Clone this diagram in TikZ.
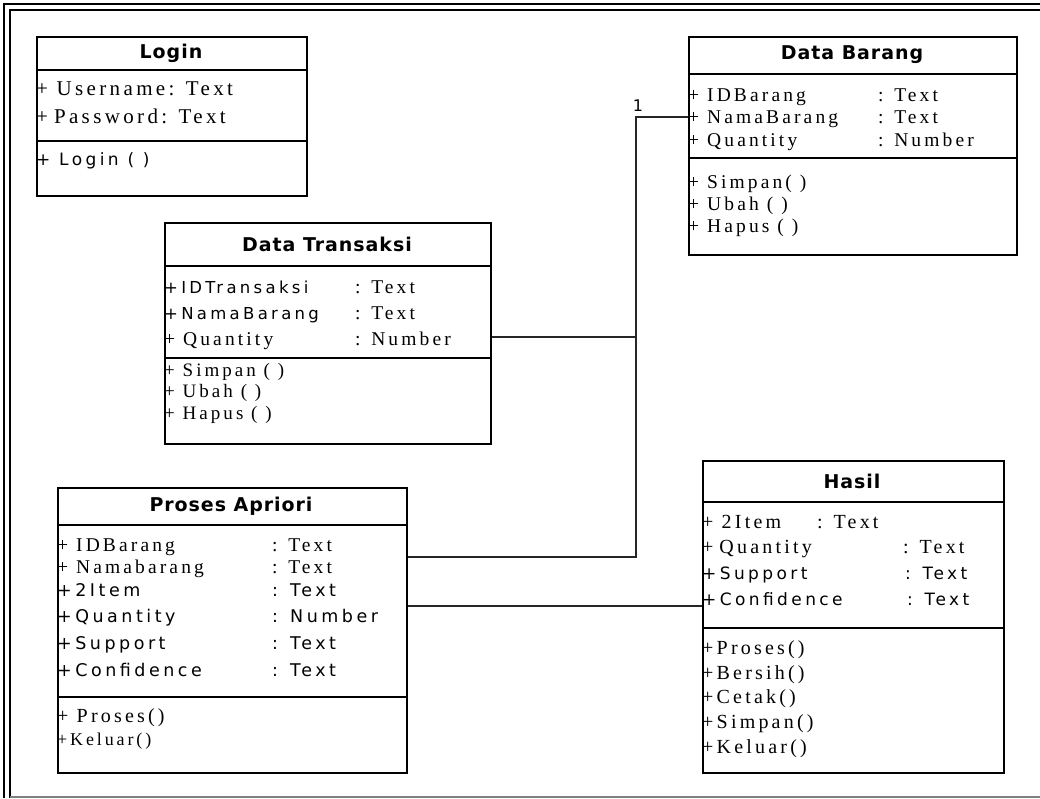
\documentclass[tikz,border=0pt]{standalone}
\usepackage{fontspec}
\newfontfamily\serf[LetterSpace=16]{Liberation Serif}
\newfontfamily\sanf[LetterSpace=20]{DejaVu Sans}
\newfontfamily\ttlf[LetterSpace=5]{DejaVu Sans}
\begin{document}
\begin{tikzpicture}[x=1pt,y=-1pt,
  umlbox/.style={draw, line width=1.5pt, anchor=north west, inner sep=0pt},
  sep/.style={line width=1.3pt},
  ttl/.style={font=\ttlf\bfseries\fontsize{19}{19}\selectfont},
  tx/.style={anchor=base west, inner sep=0pt},
  conn/.style={line width=1.5pt, black!85}]
\useasboundingbox (0,0) rectangle (1040,798);
% frame
\draw[line width=2pt] (4,798) -- (4,4) -- (1040,4);
\draw[line width=2pt] (10,798) -- (10,10) -- (1040,10);
\draw[line width=1.5pt, black!50] (10,797) -- (1040,797);

% ---------------- Login
\node[umlbox, minimum width=270pt, minimum height=159pt] (login) at (36,36) {};
\draw[sep] ([yshift=-34pt]login.north west) -- ([yshift=-34pt]login.north east);
\draw[sep] ([yshift=-105pt]login.north west) -- ([yshift=-105pt]login.north east);
\node[ttl] (logint) at (171,53) {Login};
\node[tx, font=\serf\fontsize{21}{21}\selectfont] (lg1) at (36,95) {+ Username: Text};
\node[tx, font=\serf\fontsize{21}{21}\selectfont] (lg2) at (36,123) {+\hspace{6pt}Password: Text};
\node[tx, font=\sanf\fontsize{17}{17}\selectfont] (lg3) at (36,165) {+ Login ( )};

% ---------------- Data Barang
\node[umlbox, minimum width=328pt, minimum height=218pt] (db) at (688,36) {};
\draw[sep] ([yshift=-38pt]db.north west) -- ([yshift=-38pt]db.north east);
\draw[sep] ([yshift=-122pt]db.north west) -- ([yshift=-122pt]db.north east);
\node[ttl] (dbt) at (852,55) {Data Barang};
\begin{scope}[every node/.append style={font=\serf\fontsize{19.5}{19.5}\selectfont}]
\node[tx] (db1) at (688,101) {+ IDBarang};
\node[tx] (db1t) at (878,101) {: Text};
\node[tx] (db2) at (688,123) {+ NamaBarang};
\node[tx] (db2t) at (878,123) {: Text};
\node[tx] (db3) at (688,146) {+ Quantity};
\node[tx] (db3t) at (878,146) {: Number};
\node[tx] (db4) at (688,188) {+ Simpan( )};
\node[tx] (db5) at (688,210) {+ Ubah ( )};
\node[tx] (db6) at (688,232) {+ Hapus ( )};
\end{scope}

% ---------------- Data Transaksi
\node[umlbox, minimum width=326pt, minimum height=221pt] (dt) at (164,222) {};
\draw[sep] ([yshift=-44pt]dt.north west) -- ([yshift=-44pt]dt.north east);
\draw[sep] ([yshift=-136pt]dt.north west) -- ([yshift=-136pt]dt.north east);
\node[ttl] (dtt) at (327,244) {Data Transaksi};
\node[tx, font=\sanf\fontsize{16.5}{16.5}\selectfont] (dt1) at (164,293) {+IDTransaksi};
\node[tx, font=\serf\fontsize{19.5}{19.5}\selectfont] (dt1t) at (355,293) {: Text};
\node[tx, font=\sanf\fontsize{16.5}{16.5}\selectfont] (dt2) at (164,319) {+NamaBarang};
\node[tx, font=\serf\fontsize{19.5}{19.5}\selectfont] (dt2t) at (355,319) {: Text};
\node[tx, font=\serf\fontsize{19.5}{19.5}\selectfont] (dt3) at (164,345) {+ Quantity};
\node[tx, font=\serf\fontsize{19.5}{19.5}\selectfont] (dt3t) at (355,345) {: Number};
\node[tx, font=\serf\fontsize{19}{19}\selectfont] (dt4) at (164,376) {+ Simpan ( )};
\node[tx, font=\serf\fontsize{19}{19}\selectfont] (dt5) at (164,397) {+ Ubah ( )};
\node[tx, font=\serf\fontsize{19}{19}\selectfont] (dt6) at (164,419) {+ Hapus ( )};

% ---------------- Proses Apriori
\node[umlbox, minimum width=349pt, minimum height=285pt] (pa) at (57,487) {};
\draw[sep] ([yshift=-38pt]pa.north west) -- ([yshift=-38pt]pa.north east);
\draw[sep] ([yshift=-210pt]pa.north west) -- ([yshift=-210pt]pa.north east);
\node[ttl] (pat) at (231,506) {Proses Apriori};
\node[tx, font=\serf\fontsize{19.5}{19.5}\selectfont] (pa1) at (57,551) {+ IDBarang};
\node[tx, font=\serf\fontsize{19.5}{19.5}\selectfont] (pa1t) at (272,551) {: Text};
\node[tx, font=\serf\fontsize{19.5}{19.5}\selectfont] (pa2) at (57,573) {+ Namabarang};
\node[tx, font=\serf\fontsize{19.5}{19.5}\selectfont] (pa2t) at (272,573) {: Text};
\node[tx, font=\sanf\fontsize{17.5}{17.5}\selectfont] (pa3) at (57,596) {+2Item};
\node[tx, font=\sanf\fontsize{17.5}{17.5}\selectfont] (pa3t) at (272,596) {: Text};
\node[tx, font=\sanf\fontsize{17.5}{17.5}\selectfont] (pa4) at (57,622) {+Quantity};
\node[tx, font=\sanf\fontsize{17.5}{17.5}\selectfont] (pa4t) at (272,622) {: Number};
\node[tx, font=\sanf\fontsize{17.5}{17.5}\selectfont] (pa5) at (57,649) {+Support};
\node[tx, font=\sanf\fontsize{17.5}{17.5}\selectfont] (pa5t) at (272,649) {: Text};
\node[tx, font=\sanf\fontsize{17.5}{17.5}\selectfont] (pa6) at (57,676) {+Confidence};
\node[tx, font=\sanf\fontsize{17.5}{17.5}\selectfont] (pa6t) at (272,676) {: Text};
\node[tx, font=\serf\fontsize{20}{20}\selectfont] (pa7) at (57,722) {+ Proses()};
\node[tx, font=\serf\fontsize{18}{18}\selectfont] (pa8) at (57,745) {+Keluar()};

% ---------------- Hasil
\node[umlbox, minimum width=301pt, minimum height=312pt] (hs) at (702,460) {};
\draw[sep] ([yshift=-42pt]hs.north west) -- ([yshift=-42pt]hs.north east);
\draw[sep] ([yshift=-168pt]hs.north west) -- ([yshift=-168pt]hs.north east);
\node[ttl] (hst) at (852,481) {Hasil};
\node[tx, font=\serf\fontsize{20}{20}\selectfont] (hs1) at (702,528) {+ 2Item};
\node[tx, font=\serf\fontsize{20}{20}\selectfont] (hs1t) at (817,528) {: Text};
\node[tx, font=\serf\fontsize{20}{20}\selectfont] (hs2) at (702,553) {+\hspace{6pt}Quantity};
\node[tx, font=\serf\fontsize{20}{20}\selectfont] (hs2t) at (903,553) {: Text};
\node[tx, font=\sanf\fontsize{17}{17}\selectfont] (hs3) at (702,579) {+Support};
\node[tx, font=\sanf\fontsize{17}{17}\selectfont] (hs3t) at (905,579) {: Text};
\node[tx, font=\sanf\fontsize{17}{17}\selectfont] (hs4) at (702,605) {+Confidence};
\node[tx, font=\sanf\fontsize{17}{17}\selectfont] (hs4t) at (907,605) {: Text};
\begin{scope}[every node/.append style={font=\serf\fontsize{20}{20}\selectfont}]
\node[tx] (hs5) at (702,654) {+Proses()};
\node[tx] (hs6) at (702,679) {+Bersih()};
\node[tx] (hs7) at (702,703) {+Cetak()};
\node[tx] (hs8) at (702,728) {+Simpan()};
\node[tx] (hs9) at (702,753) {+Keluar()};
\end{scope}

% ---------------- connectors
\coordinate (yb) at (0,117);
\coordinate (yp) at (0,557);
\coordinate (yt) at (0,337);
\coordinate (yh) at (0,606);
\coordinate (jt) at (636,117);
\coordinate (jb) at (636,557);
\coordinate (jm) at (636,337);
\draw[conn] (db.west |- yb) -- (jt) -- (jb) -- (pa.east |- yp);
\draw[conn] (dt.east |- yt) -- (jm);
\draw[conn] (pa.east |- yh) -- (hs.west |- yh);
\node[font=\sanf\fontsize{16}{16}\selectfont, anchor=base] (m1) at (638,111) {1};
\end{tikzpicture}
\end{document}
